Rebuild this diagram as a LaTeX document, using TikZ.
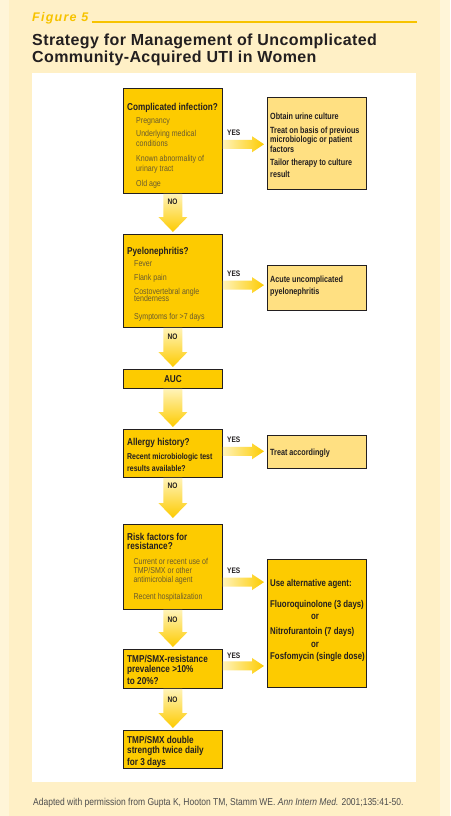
\documentclass[tikz,border=0pt]{standalone}
\usepackage{fontspec}
\setmainfont{Liberation Sans}
\newfontfamily\cond[FakeStretch=0.82]{Liberation Sans}
\newfontfamily\condB[FakeStretch=0.80]{Liberation Sans}
\newfontfamily\footfont[FakeStretch=0.85]{Liberation Sans}
\newfontfamily\ttlfont[LetterSpace=2.5]{Liberation Sans}
\newfontfamily\figfont[LetterSpace=10]{Liberation Sans}
\usetikzlibrary{calc}
\definecolor{bgcream}{HTML}{FFF0C6}
\definecolor{bgedge}{HTML}{FFF5D8}
\definecolor{gold}{HTML}{FDCB00}
\definecolor{figgold}{HTML}{F7C300}
\definecolor{lightbox}{HTML}{FFE082}
\definecolor{arrpale}{HTML}{FFF3B8}
\definecolor{ink}{HTML}{231F20}
\definecolor{subtext}{HTML}{6A5B2E}
\definecolor{foot}{HTML}{4D4D4D}
\newcommand\rr{\rightskip=0pt plus 1fil\spaceskip=0pt\xspaceskip=0pt\relax}
\newcommand\hf{\cond\bfseries\fontsize{10}{10}\selectfont\color{ink}}
\newcommand\itf[1]{\rr\cond\mdseries\fontsize{8.6}{#1}\selectfont\color{subtext}}
\newcommand\rbf[1]{\rr\cond\bfseries\fontsize{8.5}{#1}\selectfont\color{ink}}
\newcommand\rb[2]{\rr\condB\bfseries\fontsize{#1}{#2}\selectfont\color{ink}}
% vertical block arrow: [gap] from to
\newcommand\varrowblk[3][2]{%
  \shade[top color=arrpale, bottom color=gold]
    ($(#2.south)+(-9.5,0)$) -- ($(#2.south)+(9.5,0)$)
    -- ($(#3.north)+(9.5,-#1-15)$) -- ($(#3.north)+(14.5,-#1-15)$)
    -- ($(#3.north)+(0,-#1)$)
    -- ($(#3.north)+(-14.5,-#1-15)$) -- ($(#3.north)+(-9.5,-#1-15)$) -- cycle;}
% horizontal block arrow: from to dy
\newcommand\harrowblk[3]{%
  \coordinate (hs) at ($(#1.east)+(0,#3)$);
  \coordinate (ht) at (hs -| #2.west);
  \shade[left color=arrpale, right color=gold]
    ($(hs)+(0,-4.5)$) -- ($(ht)+(-15,-4.5)$) -- ($(ht)+(-15,-8)$)
    -- ($(ht)+(-3,0)$)
    -- ($(ht)+(-15,8)$) -- ($(ht)+(-15,4.5)$) -- ($(hs)+(0,4.5)$) -- cycle;}
\tikzset{
  flowbox/.style={draw=ink, line width=0.9pt, anchor=north west, inner sep=0pt, minimum width=99pt},
  goldbox/.style={flowbox, fill=gold},
  palebox/.style={flowbox, fill=lightbox},
  txt/.style={anchor=base west, inner sep=0pt, align=left, text width=110pt, text=ink},
  lbl/.style={font=\cond\bfseries\fontsize{8}{9}\selectfont, text=ink, inner sep=0pt}
}
\begin{document}
\begin{tikzpicture}[x=1pt,y=-1pt]
\useasboundingbox (0,0) rectangle (450,816);
\fill[bgcream] (0,0) rectangle (450,816);
\fill[bgedge] (0,0) rectangle (9,816);
\fill[bgedge] (440,0) rectangle (450,816);
\fill[white] (32,73) rectangle (416,782);

% heading
\node[anchor=base west, inner sep=0pt, font=\figfont\bfseries\itshape\fontsize{12.5}{12.5}\selectfont, text=figgold] (fig) at (32,21.7) {Figure 5};
\coordinate (lineend) at (417,21.7);
\draw[figgold, line width=2pt] ([xshift=3pt]fig.base east) -- (fig.base east -| lineend);
\node[anchor=north west, inner sep=0pt, align=left, font=\ttlfont\bfseries\fontsize{16}{17}\selectfont, text=ink] (title) at (32,33.3) {Strategy for Management of Uncomplicated\\Community-Acquired UTI in Women};

% left column
\node[goldbox, minimum height=105pt, label={[txt,xshift=4pt,yshift=-22pt]north west:{\itf{9.7}{\hf Complicated infection?}\\[3.6pt]
\hspace*{9pt}Pregnancy\\[3.6pt]
\hspace*{9pt}Underlying medical\\
\hspace*{9pt}conditions\\[5.3pt]
\hspace*{9pt}Known abnormality of\\
\hspace*{9pt}urinary tract\\[3pt]
\hspace*{9pt}Old age}}] (b1) at (123,88) {};

\node[goldbox, minimum height=93pt, label={[txt,xshift=4pt,yshift=-20pt]north west:{\itf{9.7}{\hf Pyelonephritis?}\\[3pt]
\hspace*{7pt}Fever\\[4.3pt]
\hspace*{7pt}Flank pain\\[3.6pt]
\hspace*{7pt}Costovertebral angle\\[-2pt]
\hspace*{7pt}tenderness\\[5.3pt]
\hspace*{7pt}Symptoms for >7 days}}] (b2) at (123,234) {};

\node[goldbox, minimum height=19pt, font=\hf] (b3) at (123,369) {AUC};

\node[goldbox, minimum height=48pt, label={[txt,xshift=4pt,yshift=-16.7pt]north west:{\rbf{9.3}{\hf Allergy history?}\\[4pt]
Recent microbiologic test\\
results available?}}] (b4) at (123,429) {};

\node[goldbox, minimum height=85pt, label={[txt,xshift=4pt,yshift=-16pt]north west:{\itf{9}{\hf Risk factors for\\[0.3pt] resistance?}\\[5.7pt]
\hspace*{6.3pt}Current or recent use of\\
\hspace*{6.3pt}TMP/SMX or other\\
\hspace*{6.3pt}antimicrobial agent\\[5.3pt]
\hspace*{6.3pt}Recent hospitalization}}] (b5) at (123,524) {};

\node[goldbox, minimum height=39pt, label={[txt,xshift=4pt,yshift=-13.7pt]north west:{\rr\hf TMP/SMX-resistance\\
prevalence >10\%\\
to 20\%?}}] (b6) at (123,649) {};

\node[goldbox, minimum height=38pt, label={[txt,xshift=4pt,yshift=-13.3pt]north west:{\rr\hf TMP/SMX double\\
strength twice daily\\
for 3 days}}] (b7) at (123,730) {};

% right column
\node[palebox, minimum height=92pt, label={[txt,xshift=3pt,yshift=-22.3pt]north west:{\rb{9}{9.6}Obtain urine culture\\[4.4pt]
Treat on basis of previous\\
microbiologic or patient\\
factors\\[3.8pt]
Tailor therapy to culture\\
result}}] (r1) at (267,97) {};

\node[palebox, minimum height=45pt, label={[txt,xshift=3pt,yshift=-17.7pt]north west:{\rb{9}{10}Acute uncomplicated\\
pyelonephritis}}] (r2) at (267,265) {};

\node[palebox, minimum height=33pt, label={[txt,xshift=3pt,yshift=-20pt]north west:{\rb{9}{10}Treat accordingly}}] (r3) at (267,435) {};

\node[goldbox, minimum height=128pt, label={[txt,xshift=3pt,yshift=-27.7pt]north west:{\rb{9.8}{13.3}Use alternative agent:\\[7.3pt]
Fluoroquinolone (3 days)\\[-1.6pt]
\hspace*{41pt}or\\[1.7pt]
Nitrofurantoin (7 days)\\
\hspace*{41pt}or\\[0.4pt]
Fosfomycin (single dose)}}] (r4) at (267,559) {};

% arrows
\varrowblk{b1}{b2}
\varrowblk{b2}{b3}
\varrowblk{b3}{b4}
\varrowblk[6]{b4}{b5}
\varrowblk{b5}{b6}
\varrowblk{b6}{b7}
\harrowblk{b1}{r1}{3.3}
\harrowblk{b2}{r2}{4.2}
\harrowblk{b4}{r3}{-2.2}
\harrowblk{b5}{r4}{15.2}
\harrowblk{b6}{r4}{-3}

% connector labels
\node[lbl, anchor=base west] (y1) at (227,135) {YES};
\node[lbl, anchor=base west] (y2) at (227,276.7) {YES};
\node[lbl, anchor=base west] (y3) at (227,442.3) {YES};
\node[lbl, anchor=base west] (y4) at (227,573.3) {YES};
\node[lbl, anchor=base west] (y5) at (227,658.3) {YES};
\node[lbl, anchor=base] (n1) at (172.5,204) {NO};
\node[lbl, anchor=base] (n2) at (172.5,339.3) {NO};
\node[lbl, anchor=base] (n3) at (172.5,488.3) {NO};
\node[lbl, anchor=base] (n4) at (172.5,622) {NO};
\node[lbl, anchor=base] (n5) at (172.5,702.7) {NO};

% footer
\node[anchor=base west, inner sep=0pt, font=\footfont\fontsize{10}{10}\selectfont, text=foot] (foot) at (33,805) {Adapted with permission from Gupta K, Hooton TM, Stamm WE. \textit{Ann Intern Med.} 2001;135:41-50.};
\end{tikzpicture}
\end{document}
